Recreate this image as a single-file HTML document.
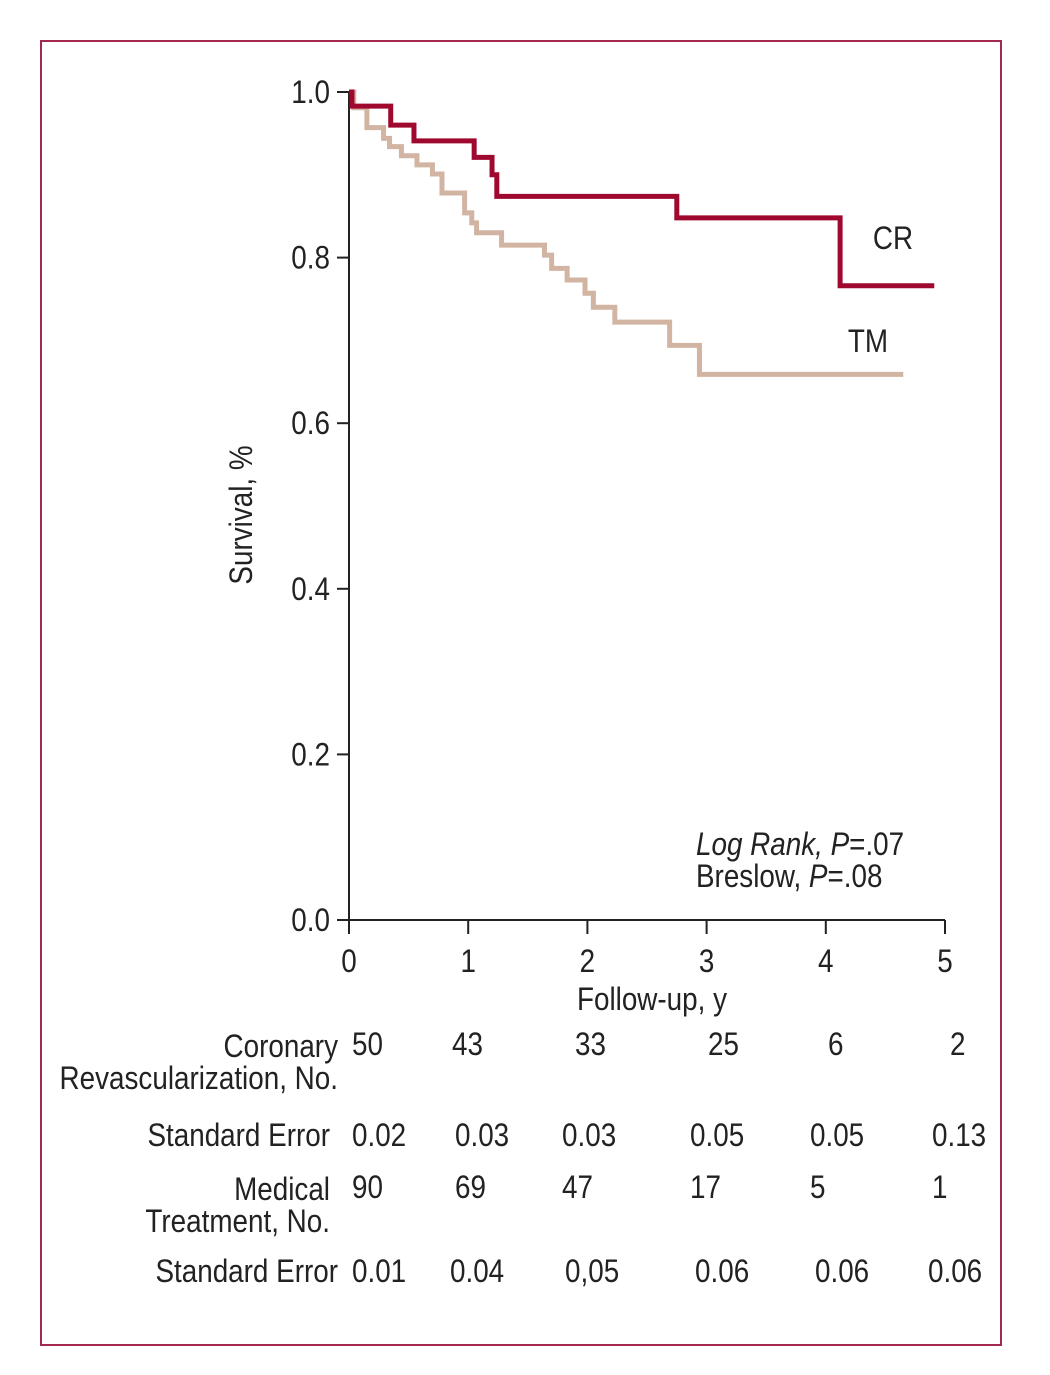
<!DOCTYPE html>
<html><head><meta charset="utf-8"><style>
body{margin:0;background:#fff}
svg text{font-family:"Liberation Sans Narrow","Liberation Sans",sans-serif;font-size:32px;fill:#222;transform-box:fill-box;transform:scaleX(0.87)}
svg text[text-anchor="end"]{transform-origin:right center}
svg text[text-anchor="middle"]{transform-origin:center center}
svg text:not([text-anchor]){transform-origin:left center}
</style></head><body>
<svg width="1050" height="1370" xmlns="http://www.w3.org/2000/svg">
<rect x="41" y="41" width="960" height="1304" fill="none" stroke="#a3284d" stroke-width="2"/>
<g id="axes"></g>
<g id="series"></g>
<text x="893" y="249" text-anchor="middle">CR</text>
<text x="868" y="352" text-anchor="middle">TM</text>
<text x="696" y="855"><tspan font-style="italic">Log Rank, P</tspan>=.07</text>
<text x="696" y="887">Breslow, <tspan font-style="italic">P</tspan>=.08</text>
<g transform="translate(252,515) rotate(-90)"><text x="0" y="0" text-anchor="middle">Survival, %</text></g>
<text x="652" y="1010" text-anchor="middle">Follow-up, y</text>
<g id="table"></g>
</svg>
<script>
const xTicks=[0,1,2,3,4,5];
const yTicks=[0,0.2,0.4,0.6,0.8,1.0];
const crTimes=[0,0.025,0.35,0.545,1.05,1.2,1.24,2.75,4.12,4.91];
const crSurv=[1.0,0.983,0.96,0.941,0.921,0.90,0.874,0.848,0.766,0.766];
const tmTimes=[0,0.04,0.15,0.29,0.34,0.44,0.57,0.70,0.78,0.97,1.03,1.07,1.28,1.64,1.70,1.83,1.98,2.05,2.23,2.69,2.94,4.65];
const tmSurv=[1.0,0.981,0.957,0.944,0.934,0.923,0.912,0.901,0.878,0.854,0.842,0.830,0.815,0.803,0.787,0.773,0.757,0.740,0.722,0.694,0.659,0.659];
const rowLabels=[["Coronary","Revascularization, No."],["Standard Error"],["Medical","Treatment, No."],["Standard Error"]];
const rowValues=[["50","43","33","25","6","2"],["0.02","0.03","0.03","0.05","0.05","0.13"],["90","69","47","17","5","1"],["0.01","0.04","0,05","0.06","0.06","0.06"]];
const NS="http://www.w3.org/2000/svg";
const X=t=>349+t*119.2, Y=s=>920-s*828;
function mk(tag,attrs,parent,txt){const e=document.createElementNS(NS,tag);for(const k in attrs)e.setAttribute(k,attrs[k]);if(txt!=null)e.textContent=txt;parent.appendChild(e);return e;}
const ax=document.getElementById('axes');
let a=mk('line',{x1:349,y1:Y(1),x2:349,y2:920,stroke:'#222','stroke-width':2},ax);


a=mk('line',{x1:349,y1:920,x2:X(5),y2:920,stroke:'#222','stroke-width':2},ax);


yTicks.forEach(v=>{
 let l=mk('line',{x1:337,y1:Y(v),x2:349,y2:Y(v),stroke:'#222','stroke-width':2},ax);
 
 
 let t=mk('text',{x:330,y:Y(v)+11,'text-anchor':'end'},ax,v.toFixed(1));
 
 
});
xTicks.forEach(v=>{
 let l=mk('line',{x1:X(v),y1:920,x2:X(v),y2:934,stroke:'#222','stroke-width':2},ax);
 
 
 let t=mk('text',{x:X(v),y:972,'text-anchor':'middle'},ax,String(v));
 
 
});
function stepPath(ts,ss){let d='M'+X(ts[0])+' '+Y(ss[0]);for(let i=1;i<ts.length;i++){d+=' H'+X(ts[i])+' V'+Y(ss[i]);}return d;}
const sg=document.getElementById('series');
let p=mk('path',{d:stepPath(tmTimes,tmSurv),fill:'none',stroke:'#d2b4a2','stroke-width':5},sg);


p=mk('path',{d:stepPath(crTimes,crSurv),fill:'none',stroke:'#a0092f','stroke-width':5},sg);


const tg=document.getElementById('table');
const rowY=[1055,1146,1198,1282];
const labelX=[338,330,330,338];
const colX=[[352,452,575,708,828,950],[352,455,562,690,810,932],[352,455,562,690,810,932],[352,450,565,695,815,928]];
rowLabels.forEach((lab,r)=>{
 lab.forEach((s,i)=>{
  const y=lab.length===2?rowY[r]+2+i*32:rowY[r];
  let t=mk('text',{x:labelX[r],y:y,'text-anchor':'end'},tg,s);
  
  
 });
 rowValues[r].forEach((v,i)=>{
  let t=mk('text',{x:colX[r][i],y:rowY[r]},tg,v);
  
  
 });
});
</script>
</body></html>
